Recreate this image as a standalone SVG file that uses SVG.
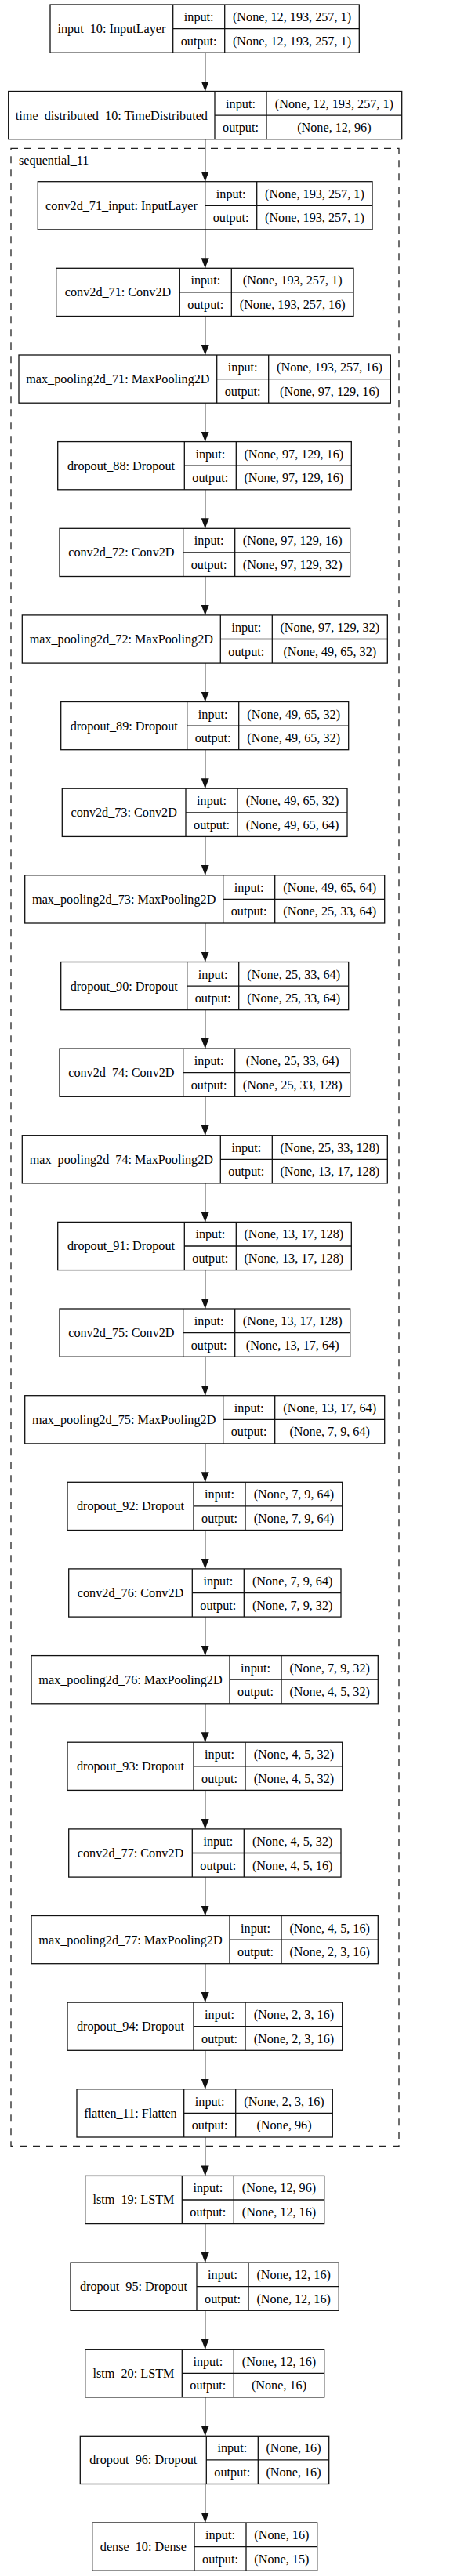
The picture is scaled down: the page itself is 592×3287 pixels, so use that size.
<svg xmlns="http://www.w3.org/2000/svg" width="592" height="3287" viewBox="0 0 592 3287">
<style>
.bx{fill:#fff;stroke:#111;stroke-width:1.3}
.ln{fill:none;stroke:#111;stroke-width:1.3}
text{font-family:"Liberation Serif","Times New Roman",serif;font-size:16.2px;fill:#000}
.m{text-anchor:middle}
.cl{fill:none;stroke:#222;stroke-width:1.3;stroke-dasharray:9,8}
.e{fill:none;stroke:#222;stroke-width:1.4}
</style>
<defs>
<marker id="ah" viewBox="0 0 13 10" refX="13" refY="5" markerWidth="13" markerHeight="10" orient="auto" markerUnits="userSpaceOnUse">
<path d="M0,0 L13,5 L0,10 z" fill="#111"/>
</marker>
</defs>
<rect width="592" height="3287" fill="#fff"/>
<g id="cluster_sequential_11">
<rect class="cl" x="14" y="189.3" width="495" height="2549"/>
<text x="24" y="210">sequential_11</text>
</g>
<g id="connectors">
<path class="e" marker-end="url(#ah)" d="M261.7 67.2V116.5"/>
<path class="e" marker-end="url(#ah)" d="M261.7 177.7V231.7"/>
<path class="e" marker-end="url(#ah)" d="M261.7 292.9V342.3"/>
<path class="e" marker-end="url(#ah)" d="M261.7 403.5V453"/>
<path class="e" marker-end="url(#ah)" d="M261.7 514.2V563.6"/>
<path class="e" marker-end="url(#ah)" d="M261.7 624.8V674.3"/>
<path class="e" marker-end="url(#ah)" d="M261.7 735.5V784.9"/>
<path class="e" marker-end="url(#ah)" d="M261.7 846.1V895.5"/>
<path class="e" marker-end="url(#ah)" d="M261.7 956.7V1006.2"/>
<path class="e" marker-end="url(#ah)" d="M261.7 1067.4V1116.8"/>
<path class="e" marker-end="url(#ah)" d="M261.7 1178V1227.5"/>
<path class="e" marker-end="url(#ah)" d="M261.7 1288.7V1338.1"/>
<path class="e" marker-end="url(#ah)" d="M261.7 1399.3V1448.7"/>
<path class="e" marker-end="url(#ah)" d="M261.7 1509.9V1559.4"/>
<path class="e" marker-end="url(#ah)" d="M261.7 1620.6V1670"/>
<path class="e" marker-end="url(#ah)" d="M261.7 1731.2V1780.7"/>
<path class="e" marker-end="url(#ah)" d="M261.7 1841.9V1891.3"/>
<path class="e" marker-end="url(#ah)" d="M261.7 1952.5V2001.9"/>
<path class="e" marker-end="url(#ah)" d="M261.7 2063.1V2112.6"/>
<path class="e" marker-end="url(#ah)" d="M261.7 2173.8V2223.2"/>
<path class="e" marker-end="url(#ah)" d="M261.7 2284.4V2333.9"/>
<path class="e" marker-end="url(#ah)" d="M261.7 2395.1V2444.5"/>
<path class="e" marker-end="url(#ah)" d="M261.7 2505.7V2555.1"/>
<path class="e" marker-end="url(#ah)" d="M261.7 2616.3V2665.8"/>
<path class="e" marker-end="url(#ah)" d="M261.7 2727V2776.4"/>
<path class="e" marker-end="url(#ah)" d="M261.7 2837.6V2887.1"/>
<path class="e" marker-end="url(#ah)" d="M261.7 2948.3V2997.7"/>
<path class="e" marker-end="url(#ah)" d="M261.7 3058.9V3108.3"/>
<path class="e" marker-end="url(#ah)" d="M261.7 3169.5V3219"/>
</g>

<g id="input_10" transform="translate(0,6)">
<rect class="bx" x="64" y="0" width="394.3" height="61.2"/>
<path class="ln" d="M220.7 0V61.2M286.7 0V61.2M220.7 30.6H458.3"/>
<text class="m" x="142.4" y="36">input_10: InputLayer</text>
<text class="m" x="253.7" y="21">input:</text>
<text class="m" x="253.7" y="51.7">output:</text>
<text class="m" x="372.5" y="21">(None, 12, 193, 257, 1)</text>
<text class="m" x="372.5" y="51.7">(None, 12, 193, 257, 1)</text>
</g>

<g id="time_distributed_10" transform="translate(0,116.5)">
<rect class="bx" x="10.7" y="0" width="502" height="61.2"/>
<path class="ln" d="M274 0V61.2M340 0V61.2M274 30.6H512.7"/>
<text class="m" x="142.4" y="36">time_distributed_10: TimeDistributed</text>
<text class="m" x="307" y="21">input:</text>
<text class="m" x="307" y="51.7">output:</text>
<text class="m" x="426.4" y="21">(None, 12, 193, 257, 1)</text>
<text class="m" x="426.4" y="51.7">(None, 12, 96)</text>
</g>

<g id="conv2d_71_input" transform="translate(0,231.7)">
<rect class="bx" x="48.3" y="0" width="426.7" height="61.2"/>
<path class="ln" d="M261.7 0V61.2M327.7 0V61.2M261.7 30.6H475"/>
<text class="m" x="155" y="36">conv2d_71_input: InputLayer</text>
<text class="m" x="294.7" y="21">input:</text>
<text class="m" x="294.7" y="51.7">output:</text>
<text class="m" x="401.4" y="21">(None, 193, 257, 1)</text>
<text class="m" x="401.4" y="51.7">(None, 193, 257, 1)</text>
</g>

<g id="conv2d_71" transform="translate(0,342.3)">
<rect class="bx" x="71.7" y="0" width="379.3" height="61.2"/>
<path class="ln" d="M229.3 0V61.2M295.3 0V61.2M229.3 30.6H451"/>
<text class="m" x="150.5" y="36">conv2d_71: Conv2D</text>
<text class="m" x="262.3" y="21">input:</text>
<text class="m" x="262.3" y="51.7">output:</text>
<text class="m" x="373.2" y="21">(None, 193, 257, 1)</text>
<text class="m" x="373.2" y="51.7">(None, 193, 257, 16)</text>
</g>

<g id="max_pooling2d_71" transform="translate(0,453)">
<rect class="bx" x="24" y="0" width="474.3" height="61.2"/>
<path class="ln" d="M276.7 0V61.2M342.7 0V61.2M276.7 30.6H498.3"/>
<text class="m" x="150.4" y="36">max_pooling2d_71: MaxPooling2D</text>
<text class="m" x="309.7" y="21">input:</text>
<text class="m" x="309.7" y="51.7">output:</text>
<text class="m" x="420.5" y="21">(None, 193, 257, 16)</text>
<text class="m" x="420.5" y="51.7">(None, 97, 129, 16)</text>
</g>

<g id="dropout_88" transform="translate(0,563.6)">
<rect class="bx" x="73.7" y="0" width="374.6" height="61.2"/>
<path class="ln" d="M235.3 0V61.2M301.3 0V61.2M235.3 30.6H448.3"/>
<text class="m" x="154.5" y="36">dropout_88: Dropout</text>
<text class="m" x="268.3" y="21">input:</text>
<text class="m" x="268.3" y="51.7">output:</text>
<text class="m" x="374.8" y="21">(None, 97, 129, 16)</text>
<text class="m" x="374.8" y="51.7">(None, 97, 129, 16)</text>
</g>

<g id="conv2d_72" transform="translate(0,674.3)">
<rect class="bx" x="76" y="0" width="370.7" height="61.2"/>
<path class="ln" d="M233.7 0V61.2M299.7 0V61.2M233.7 30.6H446.7"/>
<text class="m" x="154.9" y="36">conv2d_72: Conv2D</text>
<text class="m" x="266.7" y="21">input:</text>
<text class="m" x="266.7" y="51.7">output:</text>
<text class="m" x="373.2" y="21">(None, 97, 129, 16)</text>
<text class="m" x="373.2" y="51.7">(None, 97, 129, 32)</text>
</g>

<g id="max_pooling2d_72" transform="translate(0,784.9)">
<rect class="bx" x="28.3" y="0" width="466" height="61.2"/>
<path class="ln" d="M281.3 0V61.2M347.3 0V61.2M281.3 30.6H494.3"/>
<text class="m" x="154.8" y="36">max_pooling2d_72: MaxPooling2D</text>
<text class="m" x="314.3" y="21">input:</text>
<text class="m" x="314.3" y="51.7">output:</text>
<text class="m" x="420.8" y="21">(None, 97, 129, 32)</text>
<text class="m" x="420.8" y="51.7">(None, 49, 65, 32)</text>
</g>

<g id="dropout_89" transform="translate(0,895.5)">
<rect class="bx" x="77.7" y="0" width="367" height="61.2"/>
<path class="ln" d="M238.7 0V61.2M304.7 0V61.2M238.7 30.6H444.7"/>
<text class="m" x="158.2" y="36">dropout_89: Dropout</text>
<text class="m" x="271.7" y="21">input:</text>
<text class="m" x="271.7" y="51.7">output:</text>
<text class="m" x="374.7" y="21">(None, 49, 65, 32)</text>
<text class="m" x="374.7" y="51.7">(None, 49, 65, 32)</text>
</g>

<g id="conv2d_73" transform="translate(0,1006.2)">
<rect class="bx" x="79.3" y="0" width="363.7" height="61.2"/>
<path class="ln" d="M237 0V61.2M303 0V61.2M237 30.6H443"/>
<text class="m" x="158.2" y="36">conv2d_73: Conv2D</text>
<text class="m" x="270" y="21">input:</text>
<text class="m" x="270" y="51.7">output:</text>
<text class="m" x="373" y="21">(None, 49, 65, 32)</text>
<text class="m" x="373" y="51.7">(None, 49, 65, 64)</text>
</g>

<g id="max_pooling2d_73" transform="translate(0,1116.8)">
<rect class="bx" x="31.7" y="0" width="459" height="61.2"/>
<path class="ln" d="M284.7 0V61.2M350.7 0V61.2M284.7 30.6H490.7"/>
<text class="m" x="158.2" y="36">max_pooling2d_73: MaxPooling2D</text>
<text class="m" x="317.7" y="21">input:</text>
<text class="m" x="317.7" y="51.7">output:</text>
<text class="m" x="420.7" y="21">(None, 49, 65, 64)</text>
<text class="m" x="420.7" y="51.7">(None, 25, 33, 64)</text>
</g>

<g id="dropout_90" transform="translate(0,1227.5)">
<rect class="bx" x="77.7" y="0" width="367" height="61.2"/>
<path class="ln" d="M238.7 0V61.2M304.7 0V61.2M238.7 30.6H444.7"/>
<text class="m" x="158.2" y="36">dropout_90: Dropout</text>
<text class="m" x="271.7" y="21">input:</text>
<text class="m" x="271.7" y="51.7">output:</text>
<text class="m" x="374.7" y="21">(None, 25, 33, 64)</text>
<text class="m" x="374.7" y="51.7">(None, 25, 33, 64)</text>
</g>

<g id="conv2d_74" transform="translate(0,1338.1)">
<rect class="bx" x="76" y="0" width="370.7" height="61.2"/>
<path class="ln" d="M233.7 0V61.2M299.7 0V61.2M233.7 30.6H446.7"/>
<text class="m" x="154.9" y="36">conv2d_74: Conv2D</text>
<text class="m" x="266.7" y="21">input:</text>
<text class="m" x="266.7" y="51.7">output:</text>
<text class="m" x="373.2" y="21">(None, 25, 33, 64)</text>
<text class="m" x="373.2" y="51.7">(None, 25, 33, 128)</text>
</g>

<g id="max_pooling2d_74" transform="translate(0,1448.7)">
<rect class="bx" x="28.3" y="0" width="466" height="61.2"/>
<path class="ln" d="M281.3 0V61.2M347.3 0V61.2M281.3 30.6H494.3"/>
<text class="m" x="154.8" y="36">max_pooling2d_74: MaxPooling2D</text>
<text class="m" x="314.3" y="21">input:</text>
<text class="m" x="314.3" y="51.7">output:</text>
<text class="m" x="420.8" y="21">(None, 25, 33, 128)</text>
<text class="m" x="420.8" y="51.7">(None, 13, 17, 128)</text>
</g>

<g id="dropout_91" transform="translate(0,1559.4)">
<rect class="bx" x="73.7" y="0" width="374.6" height="61.2"/>
<path class="ln" d="M235.3 0V61.2M301.3 0V61.2M235.3 30.6H448.3"/>
<text class="m" x="154.5" y="36">dropout_91: Dropout</text>
<text class="m" x="268.3" y="21">input:</text>
<text class="m" x="268.3" y="51.7">output:</text>
<text class="m" x="374.8" y="21">(None, 13, 17, 128)</text>
<text class="m" x="374.8" y="51.7">(None, 13, 17, 128)</text>
</g>

<g id="conv2d_75" transform="translate(0,1670)">
<rect class="bx" x="76" y="0" width="370.7" height="61.2"/>
<path class="ln" d="M233.7 0V61.2M299.7 0V61.2M233.7 30.6H446.7"/>
<text class="m" x="154.9" y="36">conv2d_75: Conv2D</text>
<text class="m" x="266.7" y="21">input:</text>
<text class="m" x="266.7" y="51.7">output:</text>
<text class="m" x="373.2" y="21">(None, 13, 17, 128)</text>
<text class="m" x="373.2" y="51.7">(None, 13, 17, 64)</text>
</g>

<g id="max_pooling2d_75" transform="translate(0,1780.7)">
<rect class="bx" x="31.7" y="0" width="459" height="61.2"/>
<path class="ln" d="M284.7 0V61.2M350.7 0V61.2M284.7 30.6H490.7"/>
<text class="m" x="158.2" y="36">max_pooling2d_75: MaxPooling2D</text>
<text class="m" x="317.7" y="21">input:</text>
<text class="m" x="317.7" y="51.7">output:</text>
<text class="m" x="420.7" y="21">(None, 13, 17, 64)</text>
<text class="m" x="420.7" y="51.7">(None, 7, 9, 64)</text>
</g>

<g id="dropout_92" transform="translate(0,1891.3)">
<rect class="bx" x="86" y="0" width="350.7" height="61.2"/>
<path class="ln" d="M247 0V61.2M313 0V61.2M247 30.6H436.7"/>
<text class="m" x="166.5" y="36">dropout_92: Dropout</text>
<text class="m" x="280" y="21">input:</text>
<text class="m" x="280" y="51.7">output:</text>
<text class="m" x="374.9" y="21">(None, 7, 9, 64)</text>
<text class="m" x="374.9" y="51.7">(None, 7, 9, 64)</text>
</g>

<g id="conv2d_76" transform="translate(0,2001.9)">
<rect class="bx" x="87.7" y="0" width="347.3" height="61.2"/>
<path class="ln" d="M245.3 0V61.2M311.3 0V61.2M245.3 30.6H435"/>
<text class="m" x="166.5" y="36">conv2d_76: Conv2D</text>
<text class="m" x="278.3" y="21">input:</text>
<text class="m" x="278.3" y="51.7">output:</text>
<text class="m" x="373.2" y="21">(None, 7, 9, 64)</text>
<text class="m" x="373.2" y="51.7">(None, 7, 9, 32)</text>
</g>

<g id="max_pooling2d_76" transform="translate(0,2112.6)">
<rect class="bx" x="40" y="0" width="442.3" height="61.2"/>
<path class="ln" d="M293 0V61.2M359 0V61.2M293 30.6H482.3"/>
<text class="m" x="166.5" y="36">max_pooling2d_76: MaxPooling2D</text>
<text class="m" x="326" y="21">input:</text>
<text class="m" x="326" y="51.7">output:</text>
<text class="m" x="420.7" y="21">(None, 7, 9, 32)</text>
<text class="m" x="420.7" y="51.7">(None, 4, 5, 32)</text>
</g>

<g id="dropout_93" transform="translate(0,2223.2)">
<rect class="bx" x="86" y="0" width="350.7" height="61.2"/>
<path class="ln" d="M247 0V61.2M313 0V61.2M247 30.6H436.7"/>
<text class="m" x="166.5" y="36">dropout_93: Dropout</text>
<text class="m" x="280" y="21">input:</text>
<text class="m" x="280" y="51.7">output:</text>
<text class="m" x="374.9" y="21">(None, 4, 5, 32)</text>
<text class="m" x="374.9" y="51.7">(None, 4, 5, 32)</text>
</g>

<g id="conv2d_77" transform="translate(0,2333.9)">
<rect class="bx" x="87.7" y="0" width="347.3" height="61.2"/>
<path class="ln" d="M245.3 0V61.2M311.3 0V61.2M245.3 30.6H435"/>
<text class="m" x="166.5" y="36">conv2d_77: Conv2D</text>
<text class="m" x="278.3" y="21">input:</text>
<text class="m" x="278.3" y="51.7">output:</text>
<text class="m" x="373.2" y="21">(None, 4, 5, 32)</text>
<text class="m" x="373.2" y="51.7">(None, 4, 5, 16)</text>
</g>

<g id="max_pooling2d_77" transform="translate(0,2444.5)">
<rect class="bx" x="40" y="0" width="442.3" height="61.2"/>
<path class="ln" d="M293 0V61.2M359 0V61.2M293 30.6H482.3"/>
<text class="m" x="166.5" y="36">max_pooling2d_77: MaxPooling2D</text>
<text class="m" x="326" y="21">input:</text>
<text class="m" x="326" y="51.7">output:</text>
<text class="m" x="420.7" y="21">(None, 4, 5, 16)</text>
<text class="m" x="420.7" y="51.7">(None, 2, 3, 16)</text>
</g>

<g id="dropout_94" transform="translate(0,2555.1)">
<rect class="bx" x="86" y="0" width="350.7" height="61.2"/>
<path class="ln" d="M247 0V61.2M313 0V61.2M247 30.6H436.7"/>
<text class="m" x="166.5" y="36">dropout_94: Dropout</text>
<text class="m" x="280" y="21">input:</text>
<text class="m" x="280" y="51.7">output:</text>
<text class="m" x="374.9" y="21">(None, 2, 3, 16)</text>
<text class="m" x="374.9" y="51.7">(None, 2, 3, 16)</text>
</g>

<g id="flatten_11" transform="translate(0,2665.8)">
<rect class="bx" x="98" y="0" width="326.3" height="61.2"/>
<path class="ln" d="M234.7 0V61.2M300.7 0V61.2M234.7 30.6H424.3"/>
<text class="m" x="166.4" y="36">flatten_11: Flatten</text>
<text class="m" x="267.7" y="21">input:</text>
<text class="m" x="267.7" y="51.7">output:</text>
<text class="m" x="362.5" y="21">(None, 2, 3, 16)</text>
<text class="m" x="362.5" y="51.7">(None, 96)</text>
</g>

<g id="lstm_19" transform="translate(0,2776.4)">
<rect class="bx" x="108.7" y="0" width="305" height="61.2"/>
<path class="ln" d="M232.3 0V61.2M298.3 0V61.2M232.3 30.6H413.7"/>
<text class="m" x="170.5" y="36">lstm_19: LSTM</text>
<text class="m" x="265.3" y="21">input:</text>
<text class="m" x="265.3" y="51.7">output:</text>
<text class="m" x="356" y="21">(None, 12, 96)</text>
<text class="m" x="356" y="51.7">(None, 12, 16)</text>
</g>

<g id="dropout_95" transform="translate(0,2887.1)">
<rect class="bx" x="90" y="0" width="342.3" height="61.2"/>
<path class="ln" d="M251 0V61.2M317 0V61.2M251 30.6H432.3"/>
<text class="m" x="170.5" y="36">dropout_95: Dropout</text>
<text class="m" x="284" y="21">input:</text>
<text class="m" x="284" y="51.7">output:</text>
<text class="m" x="374.7" y="21">(None, 12, 16)</text>
<text class="m" x="374.7" y="51.7">(None, 12, 16)</text>
</g>

<g id="lstm_20" transform="translate(0,2997.7)">
<rect class="bx" x="108.7" y="0" width="305" height="61.2"/>
<path class="ln" d="M232.3 0V61.2M298.3 0V61.2M232.3 30.6H413.7"/>
<text class="m" x="170.5" y="36">lstm_20: LSTM</text>
<text class="m" x="265.3" y="21">input:</text>
<text class="m" x="265.3" y="51.7">output:</text>
<text class="m" x="356" y="21">(None, 12, 16)</text>
<text class="m" x="356" y="51.7">(None, 16)</text>
</g>

<g id="dropout_96" transform="translate(0,3108.3)">
<rect class="bx" x="102.3" y="0" width="317.4" height="61.2"/>
<path class="ln" d="M263.3 0V61.2M329.3 0V61.2M263.3 30.6H419.7"/>
<text class="m" x="182.8" y="36">dropout_96: Dropout</text>
<text class="m" x="296.3" y="21">input:</text>
<text class="m" x="296.3" y="51.7">output:</text>
<text class="m" x="374.5" y="21">(None, 16)</text>
<text class="m" x="374.5" y="51.7">(None, 16)</text>
</g>

<g id="dense_10" transform="translate(0,3219)">
<rect class="bx" x="117.7" y="0" width="287" height="61.2"/>
<path class="ln" d="M248 0V61.2M314 0V61.2M248 30.6H404.7"/>
<text class="m" x="182.9" y="36">dense_10: Dense</text>
<text class="m" x="281" y="21">input:</text>
<text class="m" x="281" y="51.7">output:</text>
<text class="m" x="359.4" y="21">(None, 16)</text>
<text class="m" x="359.4" y="51.7">(None, 15)</text>
</g>
</svg>
